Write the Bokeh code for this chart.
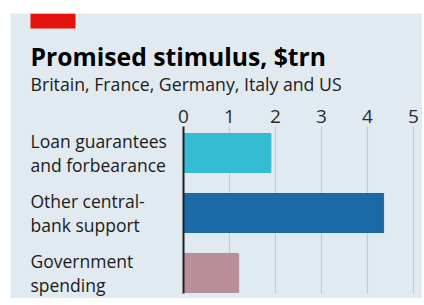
from bokeh.plotting import figure
from bokeh.models import Range1d, BoxAnnotation, ColumnDataSource, Spacer
from bokeh.layouts import column, row
from bokeh.core.properties import value
from bokeh.embed import file_html
from bokeh.resources import INLINE

# ---- data ----
categories = ["Loan guarantees\nand forbearance", "Other central-\nbank support", "Government\nspending"]
values = [1.9, 4.35, 1.2]
colors = ["#34bcd3", "#1a6aa8", "#b98e9b"]
tick_values = [0, 1, 2, 3, 4, 5]
tick_labels = ["0", "1", "2", "3", "4", "5"]
title_text = "Promised stimulus, $trn"
subtitle_text = "Britain, France, Germany, Italy and US"

PANEL = "#e2eaf1"
FONT = "Open Sans"
W, H = 412, 285
PX_X, PX_Y = 46.0, 60.0          # pixels per data unit
X0_PX = 173                      # pixel column of x = 0
Y3_PX = 139.5                    # pixel row of the top bar centre (y = 3)

def ydat(py):                    # pixel row (from top) -> data y
    return 3 + (Y3_PX - py) / PX_Y

n = len(categories)
ypos = [n - i for i in range(n)]
src = ColumnDataSource(dict(y=ypos, v=values, c=colors, lab=categories, zero=[0] * n))

p = figure(width=W, height=H, output_backend="svg", toolbar_location=None,
           x_range=Range1d(-X0_PX / PX_X, (W - X0_PX) / PX_X),
           y_range=Range1d(ydat(H), ydat(0)),
           min_border=0)
p.axis.visible = False
p.grid.visible = False
p.background_fill_color = PANEL
p.border_fill_color = PANEL
p.outline_line_color = None

grid_top, grid_bot = ydat(113), ydat(280)
gx = [t for t in tick_values if t != 0]
p.segment(x0=gx, y0=[grid_bot] * len(gx), x1=gx, y1=[grid_top] * len(gx),
          line_color="#c3cbd3", line_width=1.2)

p.hbar(y="y", right="v", left="zero", height=0.65, color="c", source=src)

p.segment(x0=[0], y0=[grid_bot], x1=[0], y1=[grid_top], line_color="#1e1e1e", line_width=2)

# tick labels along the top
p.text(x=tick_values, y=[ydat(109)] * len(tick_values), text=tick_labels,
       text_font=value(FONT), text_font_size="19px", text_color="#2a2a2a",
       text_align="center", text_baseline="bottom")

# category labels
p.text(x="zero", y="y", text="lab", source=src, x_offset=-153,
       text_font=value(FONT), text_font_size="17.5px", text_color="#1a1a1a",
       text_baseline="middle", text_align="left", text_line_height=1.0)

# red tag, title and subtitle
p.add_layout(BoxAnnotation(left=20, right=65, top=H, bottom=H - 15,
                           left_units="screen", right_units="screen",
                           top_units="screen", bottom_units="screen",
                           fill_color="#e3120b", fill_alpha=1, line_color=None))
p.text(x=[0], y=[ydat(43)], text=[title_text], x_offset=-153,
       text_font=value(FONT), text_font_size="24.7px", text_font_style="bold",
       text_color="#000000", text_baseline="alphabetic", text_align="left")
p.text(x=[0], y=[ydat(70)], text=[subtitle_text], x_offset=-153,
       text_font=value(FONT), text_font_size="17.7px",
       text_color="#1a1a1a", text_baseline="alphabetic", text_align="left")

layout = column(Spacer(height=13), row(Spacer(width=10), p))
open("out.html", "w").write(file_html(layout, INLINE))
